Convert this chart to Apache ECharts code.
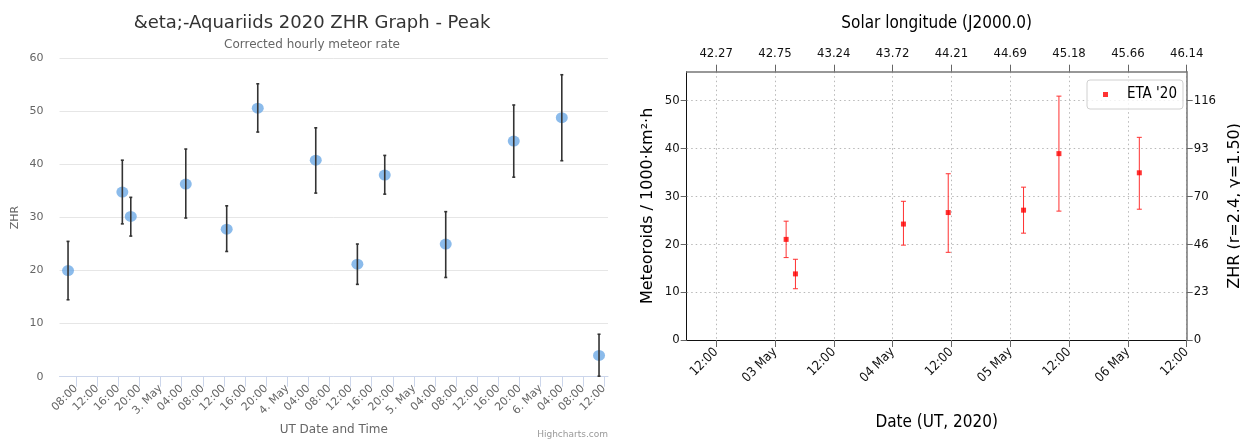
<!DOCTYPE html>
<html>
<head>
<meta charset="utf-8">
<script src="https://cdn.jsdelivr.net/npm/echarts@6/dist/echarts.min.js"></script>
<style>
  html, body { margin: 0; padding: 0; background: #fff; }
  #chart { width: 1240px; height: 439px; }
</style>
</head>
<body>
<div id="chart"></div>
<script>
// left panel: corrected hourly rate (Highcharts export)
const hcTimes = ['2020-05-02 06:29', '2020-05-02 16:46', '2020-05-02 18:22', '2020-05-03 04:47', '2020-05-03 12:32',
  '2020-05-03 18:25', '2020-05-04 05:24', '2020-05-04 13:17', '2020-05-04 18:28', '2020-05-05 06:01',
  '2020-05-05 18:54', '2020-05-06 04:00', '2020-05-06 11:03']
const hcZhr = [20.0, 34.8, 30.2, 36.3, 27.8, 50.6, 40.8, 21.2, 38.0, 25.0, 44.4, 48.8, 4.0]
const hcLow = [14.5, 28.8, 26.5, 29.9, 23.6, 46.1, 34.6, 17.4, 34.4, 18.7, 37.6, 40.7, 0.1]
const hcHigh = [25.5, 40.8, 33.8, 42.9, 32.2, 55.2, 46.9, 25.0, 41.7, 31.1, 51.2, 56.9, 8.0]
const hcTickStart = '2020-05-02 08:00'
const hcTickLabels = ['08:00', '12:00', '16:00', '20:00', '3. May', '04:00', '08:00', '12:00', '16:00', '20:00',
  '4. May', '04:00', '08:00', '12:00', '16:00', '20:00', '5. May', '04:00', '08:00', '12:00', '16:00', '20:00',
  '6. May', '04:00', '08:00', '12:00']

// right panel: flux / ZHR (matplotlib export)
const etaTimes = ['2020-05-03 02:17', '2020-05-03 04:11', '2020-05-04 02:13', '2020-05-04 11:21',
  '2020-05-05 02:43', '2020-05-05 09:56', '2020-05-06 02:20']
const etaRate = [21.0, 13.8, 24.2, 26.6, 27.1, 38.9, 34.9]
const etaLow = [17.2, 10.7, 19.8, 18.3, 22.3, 26.9, 27.3]
const etaHigh = [24.8, 16.85, 28.95, 34.7, 31.9, 50.9, 42.3]
const dateTickStart = '2020-05-02 12:00'
const dateLabels = ['12:00', '03 May', '12:00', '04 May', '12:00', '05 May', '12:00', '06 May', '12:00']
const solarLabels = ['42.27', '42.75', '43.24', '43.72', '44.21', '44.69', '45.18', '45.66', '46.14']
const rateTicks = [0, 10, 20, 30, 40, 50]
const zhrLabels = ['0', '23', '46', '70', '93', '116']

// x axes are plain value axes in hours since 2020-05-02 00:00 UT
const epoch = Date.UTC(2020, 4, 2)
const toHours = (s) => {
  const [d, t] = s.split(' ')
  const [y, mo, da] = d.split('-').map(Number)
  const [h, mi] = t.split(':').map(Number)
  return (Date.UTC(y, mo - 1, da, h, mi) - epoch) / 3600000
}

const hcT0 = toHours(hcTickStart)
const hcTicks = hcTickLabels.map((_, i) => hcT0 + i * 4)
const dT0 = toHours(dateTickStart)
const dTicks = dateLabels.map((_, i) => dT0 + i * 12)

const labelAt = (t0, step, labels) => (v) => labels[Math.round((v - t0) / step)] ?? ''

const errorBars = (capHalf, style) => (params, api) => {
  const x = api.value(0)
  const lo = api.coord([x, api.value(1)])
  const hi = api.coord([x, api.value(2)])
  return {
    type: 'group',
    children: [
      { type: 'line', shape: { x1: lo[0], y1: lo[1], x2: hi[0], y2: hi[1] }, style },
      { type: 'line', shape: { x1: hi[0] - capHalf, y1: hi[1], x2: hi[0] + capHalf, y2: hi[1] }, style },
      { type: 'line', shape: { x1: lo[0] - capHalf, y1: lo[1], x2: lo[0] + capHalf, y2: lo[1] }, style },
    ],
  }
}

const hcFont = 'DejaVu Sans'
const mplFont = 'DejaVu Sans Condensed'

const chart = echarts.init(document.getElementById('chart'))
chart.setOption({
  animation: false,
  backgroundColor: '#fff',
  title: [
    {
      text: '&eta;-Aquariids 2020 ZHR Graph - Peak',
      subtext: 'Corrected hourly meteor rate',
      left: 307,
      top: 9,
      textAlign: 'center',
      itemGap: 7,
      textStyle: { fontFamily: hcFont, fontSize: 18, fontWeight: 'normal', color: '#333' },
      subtextStyle: { fontFamily: hcFont, fontSize: 12, color: '#666' },
    },
  ],
  legend: {
    data: ["ETA '20"],
    left: 1087,
    top: 80,
    padding: [7, 6, 7, 16],
    itemWidth: 5,
    itemHeight: 5,
    icon: 'rect',
    borderColor: '#d0d0d0',
    borderWidth: 1,
    borderRadius: 3,
    backgroundColor: 'rgba(255,255,255,0.8)',
    textStyle: { fontFamily: mplFont, fontSize: 15, color: '#000', padding: [0, 0, 0, 14] },
  },
  graphic: [
    {
      type: 'text',
      right: 1240 - 608,
      top: 430,
      style: { text: 'Highcharts.com', fontFamily: hcFont, fontSize: 9, fill: '#999' },
    },
  ],
  grid: [
    { left: 59.5, right: 632, top: 58.3, bottom: 62.3, outerBoundsMode: 'none' },
    { left: 686.7, right: 53.3, top: 71.7, bottom: 99, outerBoundsMode: 'none' },
  ],
  xAxis: [
    {
      gridIndex: 0,
      type: 'value',
      min: toHours('2020-05-02 04:52'),
      max: toHours('2020-05-06 12:45'),
      name: 'UT Date and Time',
      nameLocation: 'middle',
      nameGap: 41,
      nameTextStyle: { fontFamily: hcFont, fontSize: 12, color: '#666' },
      axisLine: { onZero: false, lineStyle: { color: '#ccd6eb' } },
      axisTick: { show: true, length: 10, lineStyle: { color: '#ccd6eb' }, customValues: hcTicks },
      axisLabel: {
        customValues: hcTicks,
        rotate: 45,
        margin: 10,
        fontFamily: hcFont,
        fontSize: 11,
        color: '#666',
        formatter: labelAt(hcT0, 4, hcTickLabels),
      },
      splitLine: { show: false },
    },
    {
      gridIndex: 1,
      type: 'value',
      position: 'bottom',
      min: toHours('2020-05-02 06:00'),
      max: toHours('2020-05-06 12:00'),
      name: 'Date (UT, 2020)',
      nameLocation: 'middle',
      nameGap: 74,
      nameTextStyle: { fontFamily: mplFont, fontSize: 17, color: '#000' },
      axisLine: { onZero: false, lineStyle: { color: '#111' } },
      axisTick: { show: true, length: 7, lineStyle: { color: '#666' }, customValues: dTicks },
      axisLabel: {
        customValues: dTicks,
        rotate: 45,
        margin: 10,
        fontFamily: mplFont,
        fontSize: 13,
        color: '#111',
        formatter: labelAt(dT0, 12, dateLabels),
      },
      splitLine: { show: true, lineStyle: { color: '#b8b8b8', type: [1.5, 3] } },
    },
    {
      gridIndex: 1,
      type: 'value',
      position: 'top',
      min: toHours('2020-05-02 06:00'),
      max: toHours('2020-05-06 12:00'),
      name: 'Solar longitude (J2000.0)',
      nameLocation: 'middle',
      nameGap: 40,
      nameTextStyle: { fontFamily: mplFont, fontSize: 17, color: '#000' },
      axisLine: { onZero: false, lineStyle: { color: '#777', width: 1.5 } },
      axisTick: { show: true, length: 7, lineStyle: { color: '#666' }, customValues: dTicks },
      axisLabel: {
        customValues: dTicks,
        margin: 12,
        fontFamily: mplFont,
        fontSize: 13,
        color: '#111',
        formatter: labelAt(dT0, 12, solarLabels),
      },
      splitLine: { show: false },
    },
  ],
  yAxis: [
    {
      gridIndex: 0,
      type: 'value',
      min: 0,
      max: 60,
      interval: 10,
      name: 'ZHR',
      nameLocation: 'middle',
      nameRotate: 90,
      nameGap: 39,
      nameTextStyle: { fontFamily: hcFont, fontSize: 11, color: '#666' },
      axisLine: { show: false },
      axisTick: { show: false },
      axisLabel: { margin: 16, fontFamily: hcFont, fontSize: 11, color: '#666' },
      splitLine: { lineStyle: { color: '#e6e6e6' } },
    },
    {
      gridIndex: 1,
      type: 'value',
      position: 'left',
      min: 0,
      max: 56,
      name: 'Meteoroids / 1000·km²·h',
      nameLocation: 'middle',
      nameRotate: 90,
      nameGap: 31,
      nameTextStyle: { fontFamily: 'DejaVu Sans', fontSize: 16, color: '#000' },
      axisLine: { show: true, onZero: false, lineStyle: { color: '#111' } },
      axisTick: { show: true, length: 6, lineStyle: { color: '#666' }, customValues: rateTicks },
      axisLabel: { customValues: rateTicks, margin: 7, fontFamily: mplFont, fontSize: 13, color: '#111' },
      splitLine: { show: true, lineStyle: { color: '#b8b8b8', type: [1.5, 3] } },
    },
    {
      gridIndex: 1,
      type: 'value',
      position: 'right',
      min: 0,
      max: 56,
      name: 'ZHR (r=2.4, γ=1.50)',
      nameLocation: 'middle',
      nameRotate: 90,
      nameGap: 40,
      nameTextStyle: { fontFamily: 'DejaVu Sans', fontSize: 16, color: '#000' },
      axisLine: { show: true, onZero: false, lineStyle: { color: '#777', width: 1.5 } },
      axisTick: { show: true, length: 6, lineStyle: { color: '#666' }, customValues: rateTicks },
      axisLabel: {
        customValues: rateTicks,
        margin: 7,
        fontFamily: mplFont,
        fontSize: 13,
        color: '#111',
        formatter: (v) => zhrLabels[rateTicks.indexOf(v)] ?? '',
      },
      splitLine: { show: false },
    },
  ],
  series: [
    {
      name: 'ZHR',
      type: 'scatter',
      xAxisIndex: 0,
      yAxisIndex: 0,
      symbol: 'circle',
      symbolSize: [12, 11],
      itemStyle: { color: '#6eaae6' },
      data: hcTimes.map((t, i) => [toHours(t), hcZhr[i]]),
      z: 2,
    },
    {
      name: 'ZHR error',
      type: 'custom',
      xAxisIndex: 0,
      yAxisIndex: 0,
      renderItem: errorBars(1.5, { stroke: '#333', lineWidth: 1.6 }),
      encode: { x: 0, y: [1, 2] },
      data: hcTimes.map((t, i) => [toHours(t), hcLow[i], hcHigh[i]]),
      z: 3,
    },
    {
      name: "ETA '20 error",
      type: 'custom',
      xAxisIndex: 1,
      yAxisIndex: 1,
      renderItem: errorBars(2.5, { stroke: '#ff3030', lineWidth: 1 }),
      encode: { x: 0, y: [1, 2] },
      data: etaTimes.map((t, i) => [toHours(t), etaLow[i], etaHigh[i]]),
      z: 2,
    },
    {
      name: "ETA '20",
      type: 'scatter',
      xAxisIndex: 1,
      yAxisIndex: 1,
      symbol: 'rect',
      symbolSize: 5,
      itemStyle: { color: '#ff0000' },
      data: etaTimes.map((t, i) => [toHours(t), etaRate[i]]),
      z: 3,
    },
  ],
})
</script>
</body>
</html>
